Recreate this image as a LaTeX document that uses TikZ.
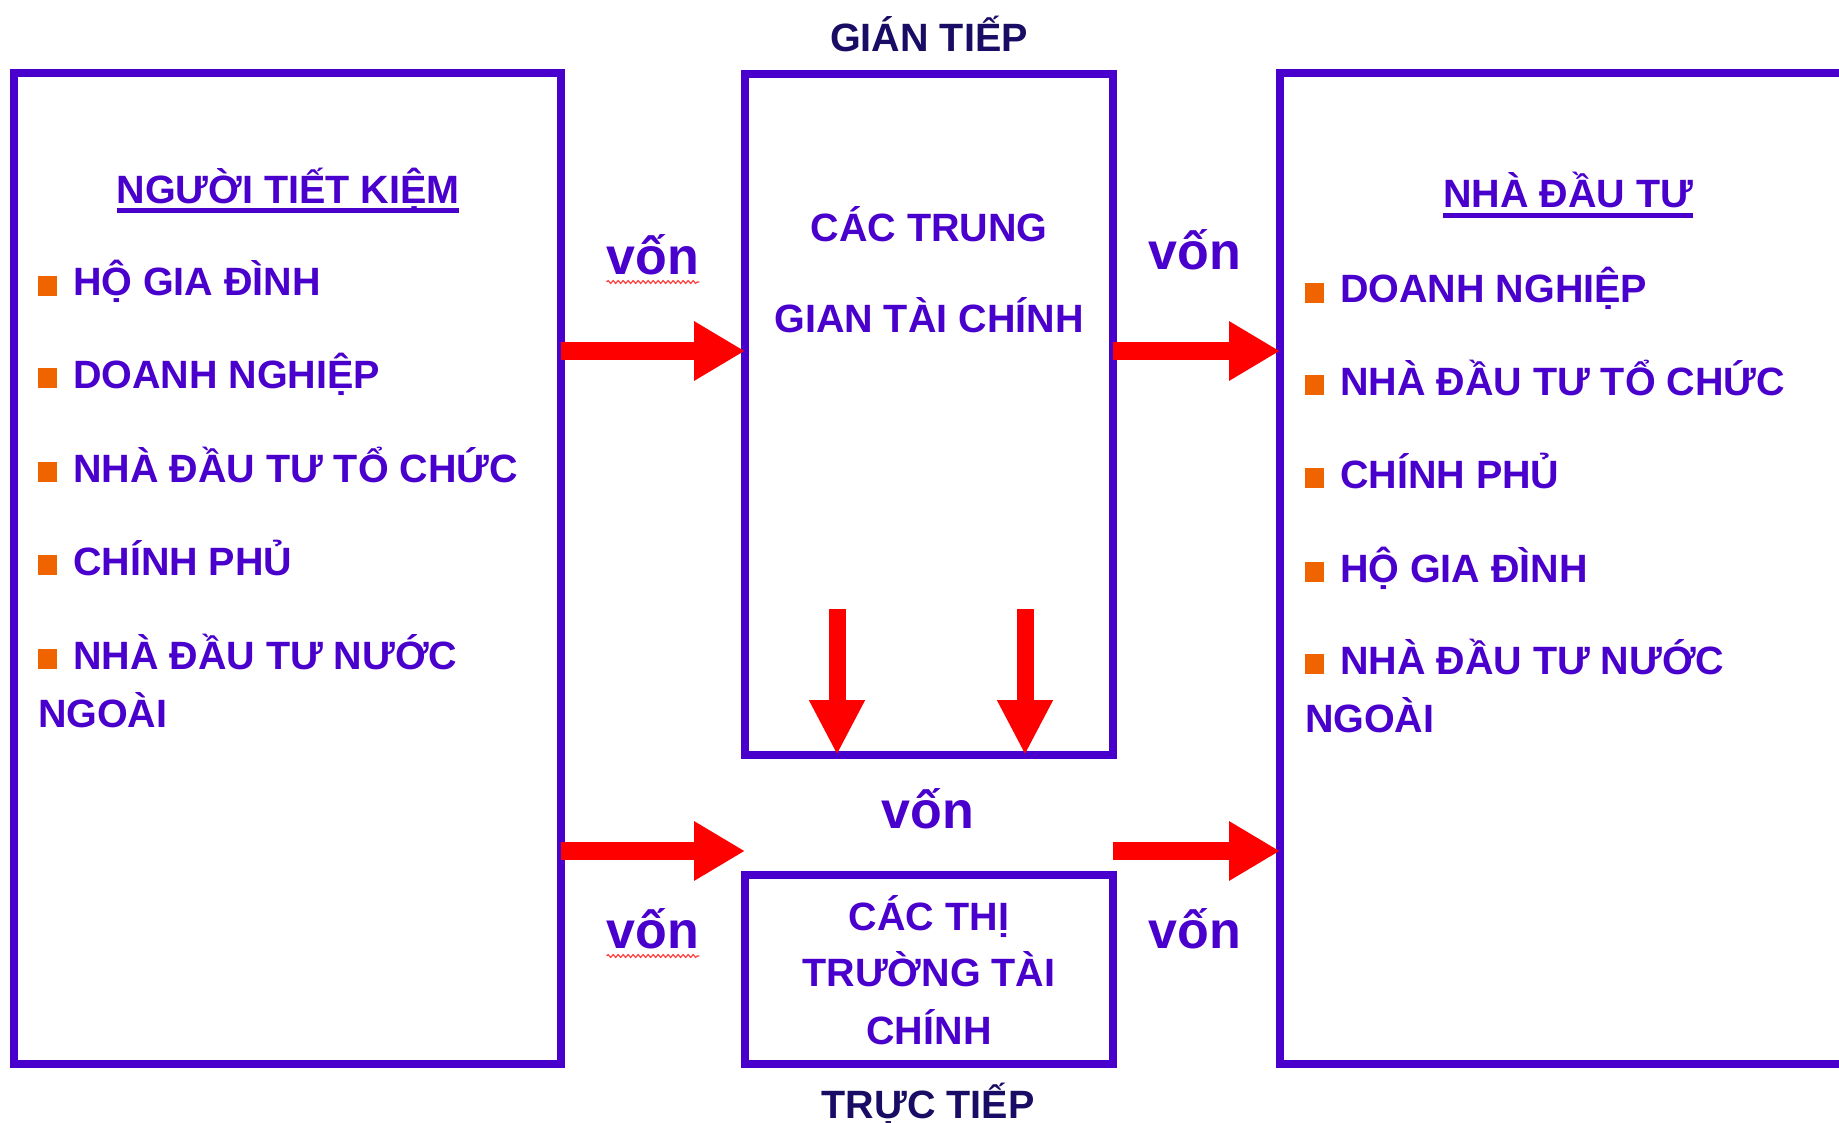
\documentclass[tikz,border=0pt]{standalone}
\usepackage{fontspec}
\setmainfont{Liberation Sans}
\usetikzlibrary{arrows.meta,decorations.pathmorphing}

\definecolor{ink}{RGB}{74,0,204}
\definecolor{navy}{RGB}{24,12,100}
\definecolor{bulorange}{RGB}{240,100,0}
\definecolor{flowred}{RGB}{255,0,0}
\definecolor{spellred}{RGB}{255,60,60}

% square bullet followed by the gap before the item text
\newcommand{\itembox}{\makebox[35pt][l]{\textcolor{bulorange}{\rule{19pt}{20pt}}}}

\begin{document}
\begin{tikzpicture}[x=1pt, y=-1pt,
  frame/.style={draw=ink, line width=8pt, inner sep=0pt, outer sep=0pt},
  txt/.style={font=\bfseries\fontsize{39.5}{58}\selectfont, text=ink, inner sep=0pt, outer sep=0pt},
  item/.style={txt, anchor=base west, align=left},
  side/.style={txt, text=navy, anchor=base},
  von/.style={font=\bfseries\fontsize{52}{60}\selectfont, text=ink, inner sep=0pt, anchor=base},
  flow/.style={draw=flowred, line width=18pt, -{Triangle[length=51pt,width=56pt]}},
  drop/.style={draw=flowred, line width=17pt, -{Triangle[length=55pt,width=52pt]}},
  squiggle/.style={draw=spellred, line width=1.2pt, decorate,
                   decoration={snake, amplitude=1.4pt, segment length=5pt}},
  underbar/.style={draw=ink, line width=5pt}]

\path[use as bounding box] (0,0) rectangle (1839,1123);
\clip (0,0) rectangle (1839,1123);

% boxes
\node[frame, minimum width=547pt, minimum height=991pt] (saver) at (287.5,568.5) {};
\node[frame, minimum width=368pt, minimum height=681pt] (inter) at (929,414.5) {};
\node[frame, minimum width=368pt, minimum height=189pt] (market) at (929,969.5) {};
\node[frame, minimum width=566pt, minimum height=991pt] (investor) at (1563,568.5) {};

% side labels
\node[side] (indirect) at (929,52) {GIÁN TIẾP};
\node[side] (direct) at (928,1118) {TRỰC TIẾP};

% savers
\node[txt, anchor=base] (saverTitle) at (288,204) {NGƯỜI TIẾT KIỆM};
\draw[underbar] ([yshift=-7pt]saverTitle.base west) -- ([yshift=-7pt]saverTitle.base east);
\node[item] (s1) at (38,296) {\itembox HỘ GIA ĐÌNH};
\node[item] (s2) at (38,388) {\itembox DOANH NGHIỆP};
\node[item] (s3) at (38,482) {\itembox NHÀ ĐẦU TƯ TỔ CHỨC};
\node[item] (s4) at (38,575) {\itembox CHÍNH PHỦ};
% two-line item: its base anchor sits on the second line
\node[item] (s5) at (38,727) {\itembox NHÀ ĐẦU TƯ NƯỚC\\NGOÀI};

% intermediaries and markets
\node[txt, anchor=base] (interA) at (929,242) {CÁC TRUNG};
\node[txt, anchor=base] (interB) at (929,332) {GIAN TÀI CHÍNH};
\node[txt, anchor=base] (marketA) at (929,930) {CÁC THỊ};
\node[txt, anchor=base] (marketB) at (929,986) {TRƯỜNG TÀI};
\node[txt, anchor=base] (marketC) at (929,1044) {CHÍNH};

% investors
\node[txt, anchor=base] (invTitle) at (1568,208) {NHÀ ĐẦU TƯ};
\draw[underbar] ([yshift=-7.5pt]invTitle.base west) -- ([yshift=-7.5pt]invTitle.base east);
\node[item] (r1) at (1305,303) {\itembox DOANH NGHIỆP};
\node[item] (r2) at (1305,395) {\itembox NHÀ ĐẦU TƯ TỔ CHỨC};
\node[item] (r3) at (1305,488) {\itembox CHÍNH PHỦ};
\node[item] (r4) at (1305,582) {\itembox HỘ GIA ĐÌNH};
\node[item] (r5) at (1305,732) {\itembox NHÀ ĐẦU TƯ NƯỚC\\NGOÀI};

% flow labels
\node[von] (vonA) at (653,275) {vốn};
\node[von] (vonB) at (1195,270) {vốn};
\node[von] (vonC) at (928,828) {vốn};
\node[von] (vonD) at (653,948) {vốn};
\node[von] (vonE) at (1195,948) {vốn};
\draw[squiggle] ([yshift=-7pt]vonA.base west) -- ([yshift=-7pt]vonA.base east);
\draw[squiggle] ([yshift=-8pt]vonD.base west) -- ([yshift=-8pt]vonD.base east);

% flows
\coordinate (upperRow) at (0,351);
\coordinate (lowerRow) at (0,851);
\coordinate (dropL) at (837,609);
\coordinate (dropR) at (1025,609);

\draw[flow] (saver.east |- upperRow) -- (inter.west |- upperRow);
\draw[flow] (inter.east |- upperRow) -- (investor.west |- upperRow);
\draw[flow] (saver.east |- lowerRow) -- (market.west |- lowerRow);
\draw[flow] (market.east |- lowerRow) -- (investor.west |- lowerRow);
\draw[drop] (dropL) -- (dropL |- inter.south);
\draw[drop] (dropR) -- (dropR |- inter.south);
\end{tikzpicture}
\end{document}
